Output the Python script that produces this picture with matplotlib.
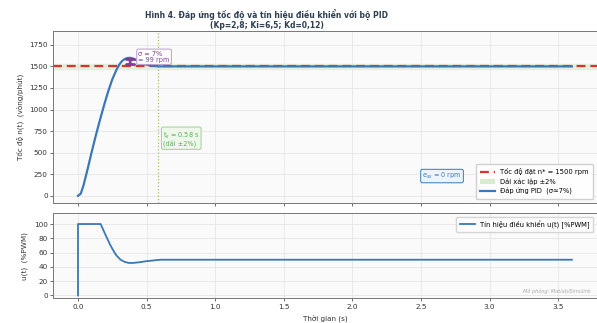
import numpy as np
import matplotlib
matplotlib.use('Agg')
import matplotlib.pyplot as plt
from matplotlib.patches import Patch
from matplotlib.lines import Line2D

plt.rcParams['font.family'] = ['DejaVu Sans']

# so lieu doc tu hinh
t_n = [0.0, 0.02, 0.04, 0.07, 0.10, 0.13, 0.16, 0.19, 0.22, 0.25, 0.28, 0.30, 0.32,
       0.34, 0.36, 0.38, 0.40, 0.43, 0.46, 0.50, 0.55, 0.60, 0.70, 0.80, 1.0, 3.6]
n_rpm = [0, 25, 120, 310, 510, 700, 880, 1050, 1210, 1350, 1460, 1520, 1560,
         1585, 1597, 1599, 1592, 1570, 1545, 1520, 1505, 1500, 1500, 1500, 1500, 1500]

t_u = [0.0, 0.0, 0.165, 0.20, 0.234, 0.26, 0.28, 0.31, 0.34, 0.37, 0.40, 0.45,
       0.50, 0.55, 0.60, 0.70, 3.6]
u_pwm = [0, 100, 100, 85, 71, 62, 56, 50, 47, 45.5, 45.5, 46.5, 48, 49, 50, 50, 50]

n_ref = 1500
t_peak = 0.38
n_peak = 1599
t_s = 0.58

blue = '#3a78b8'
red = '#d9342b'
purple = '#7d3c98'
green = '#5cae5c'

fig = plt.figure(figsize=(5.97, 3.23), dpi=100)
ax1 = fig.add_axes([0.0893, 0.3724, 0.91, 0.5316])
ax2 = fig.add_axes([0.0893, 0.0765, 0.91, 0.2631], sharex=ax1)

for ax in (ax1, ax2):
    ax.set_facecolor('#fafafa')
    ax.grid(True, color='#e2e2e2', lw=0.5)
    ax.tick_params(labelsize=5.2, length=2, width=0.5, colors='#333333', pad=2)
    for s in ax.spines.values():
        s.set_color('#777777')
        s.set_linewidth(0.7)

# --- do thi toc do
ax1.axhspan(n_ref * 0.98, n_ref * 1.02, color='#d8ecd0', alpha=0.6, zorder=1)
ax1.axhline(n_ref, color=red, ls=(0, (4, 2.2)), lw=1.6, zorder=2)
ax1.plot(t_n, n_rpm, color=blue, lw=1.6, zorder=3)
ax1.axvline(t_s, color='#9cc46a', ls=':', lw=0.9, zorder=2)

ax1.annotate('', xy=(t_peak, n_peak + 15), xytext=(t_peak, n_ref),
             arrowprops=dict(arrowstyle='|-|, widthA=0.3, widthB=0.3', color=purple, lw=2.0))
ax1.text(0.44, 1612, 'σ = 7%\n= 99 rpm', fontsize=4.7, color=purple, va='center', ha='left',
         linespacing=1.0,
         bbox=dict(boxstyle='round,pad=0.25', fc='white', ec='#b79bd0', lw=0.7))
ax1.text(0.62, 658, 't$_s$ = 0.58 s\n(dải ±2%)', fontsize=4.7, color=green, va='center', ha='left',
         linespacing=1.0,
         bbox=dict(boxstyle='round,pad=0.25', fc='#eef7ea', ec='#9fd09a', lw=0.7))
ax1.text(2.51, 229, 'e$_{ss}$ = 0 rpm', fontsize=4.7, color=blue, va='center', ha='left',
         bbox=dict(boxstyle='round,pad=0.25', fc='#eef4fb', ec=blue, lw=0.7))

ax1.set_ylim(-80, 1910)
ax1.set_yticks([0, 250, 500, 750, 1000, 1250, 1500, 1750])
ax1.set_ylabel('Tốc độ n(t)  (vòng/phút)', fontsize=5.2, color='#333333', labelpad=4)
plt.setp(ax1.get_xticklabels(), visible=False)

handles = [Line2D([], [], color=red, ls=(0, (4, 2.2)), lw=1.6),
           Patch(fc='#d8ecd0', ec='none'),
           Line2D([], [], color=blue, lw=1.6)]
labels = ['Tốc độ đặt n* = 1500 rpm', 'Dải xác lập ±2%', 'Đáp ứng PID  (σ≈7%)']
ax1.legend(handles, labels, loc='lower right', fontsize=4.9, frameon=True, framealpha=0.9,
           edgecolor='#cccccc', handlelength=2.2, borderpad=0.6, labelspacing=0.45)

# --- tin hieu dieu khien
ax2.plot(t_u, u_pwm, color=blue, lw=1.3, label='Tín hiệu điều khiển u(t) [%PWM]')
ax2.set_ylim(-4, 115)
ax2.set_yticks([0, 20, 40, 60, 80, 100])
ax2.set_xlim(-0.18, 3.78)
ax2.set_xticks([0.0, 0.5, 1.0, 1.5, 2.0, 2.5, 3.0, 3.5])
ax2.set_ylabel('u(t)  (%PWM)', fontsize=5.2, color='#333333', labelpad=4)
ax2.set_xlabel('Thời gian (s)', fontsize=5.2, color='#333333', labelpad=3)
ax2.legend(loc='upper right', fontsize=4.9, frameon=True, edgecolor='#cccccc',
           handlelength=2.2, borderpad=0.5)
ax2.text(0.99, 0.05, 'Mô phỏng: Matlab/Simulink', transform=ax2.transAxes, fontsize=3.6,
         style='italic', color='#aaaaaa', ha='right', va='bottom')

fig.text(0.447, 0.972, 'Hình 4. Đáp ứng tốc độ và tín hiệu điều khiển với bộ PID\n(Kp=2,8; Ki=6,5; Kd=0,12)',
         fontsize=5.5, fontweight='bold', color='#2c3e50', ha='center', va='top', linespacing=1.1)

fig.savefig('out.png', dpi=100)
